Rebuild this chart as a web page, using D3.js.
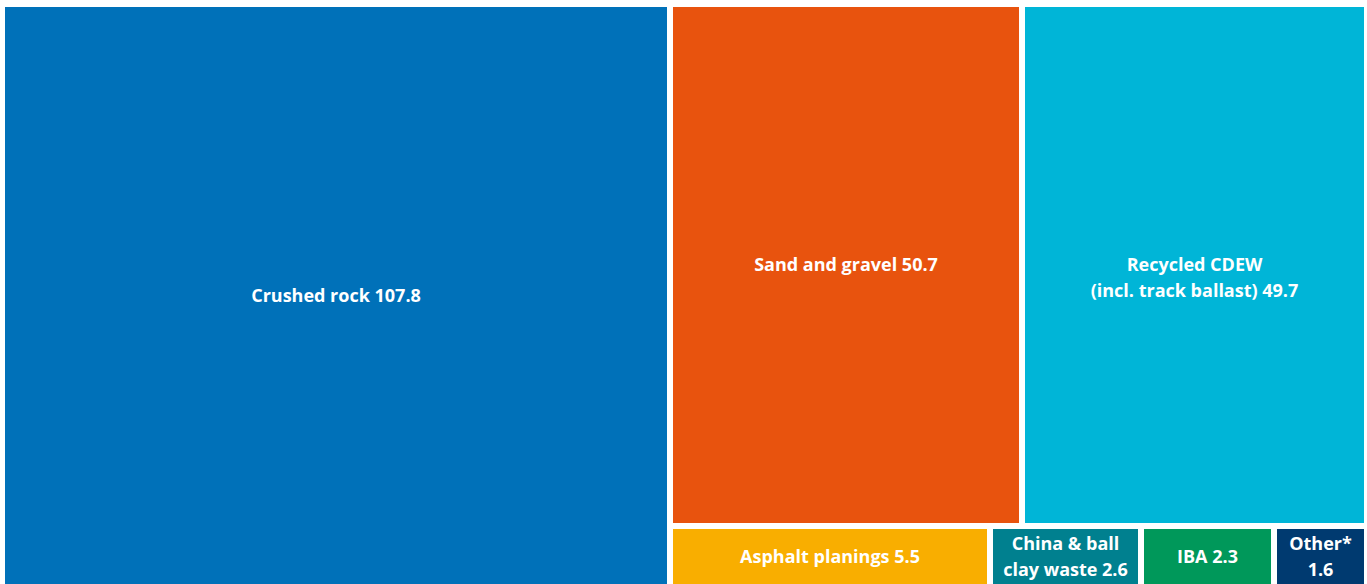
<!DOCTYPE html>
<html>
<head>
<meta charset="utf-8">
<script src="https://cdn.jsdelivr.net/npm/d3@7"></script>
<style>
  html, body { margin: 0; padding: 0; background: #fff; }
  svg { display: block; }
  text { font-family: "Open Sans", "Noto Sans", sans-serif; font-weight: 700; fill: #fff; }
</style>
</head>
<body>
<script>
// ---- data ----
const categories = ["Crushed rock", "Sand and gravel", "Recycled CDEW (incl. track ballast)", "Asphalt planings", "China & ball clay waste", "IBA", "Other*"];
const values = [107.8, 50.7, 49.7, 5.5, 2.6, 2.3, 1.6];
const labelLines = [
  ["Crushed rock 107.8"],
  ["Sand and gravel 50.7"],
  ["Recycled CDEW", "(incl. track ballast) 49.7"],
  ["Asphalt planings 5.5"],
  ["China & ball", "clay waste 2.6"],
  ["IBA 2.3"],
  ["Other*", "1.6"]
];
const colors = ["#0071b9", "#e8530e", "#00b5d7", "#f9ae00", "#00808f", "#00985a", "#003a70"];
// grouping of the layout: first item alone, then top row and bottom row of the rest
const groups = [[0], [[1, 2], [3, 4, 5, 6]]];

const W = 1367, H = 584;
const svg = d3.select("body").append("svg").attr("width", W).attr("height", H);
const plot = svg.append("g").attr("transform", "translate(5,7)");

const leaf = i => ({ name: categories[i], value: values[i], idx: i });
const rootData = {
  name: "root",
  children: [
    leaf(groups[0][0]),
    { name: "rest", children: groups[1].map(row => ({ name: "row", children: row.map(leaf) })) }
  ]
};

const root = d3.hierarchy(rootData)
  .sum(d => d.children ? 0 : d.value);

d3.treemap()
  .tile(d3.treemapSliceDice)
  .size([1359, 578])
  .paddingInner(6)
  .round(true)(root);

const leaves = root.leaves();
const g = plot.selectAll("g.cell").data(leaves).join("g").attr("class", "cell");

g.append("rect")
  .attr("x", d => d.x0)
  .attr("y", d => d.y0)
  .attr("width", d => d.x1 - d.x0)
  .attr("height", d => d.y1 - d.y0)
  .attr("fill", d => colors[d.data.idx]);

const lineH = 26;
g.append("text")
  .attr("text-anchor", "middle")
  .attr("font-size", 18)
  .each(function (d) {
    const lines = labelLines[d.data.idx];
    const cx = (d.x0 + d.x1) / 2;
    const cy = (d.y0 + d.y1) / 2;
    const tall = (d.y1 - d.y0) > 200;
    const start = tall ? cy : cy - (lines.length - 1) / 2 * lineH;
    const t = d3.select(this);
    lines.forEach((ln, k) => {
      t.append("tspan")
        .attr("x", cx)
        .attr("y", start + k * lineH)
        .attr("dy", "0.35em")
        .text(ln);
    });
  });
</script>
</body>
</html>
